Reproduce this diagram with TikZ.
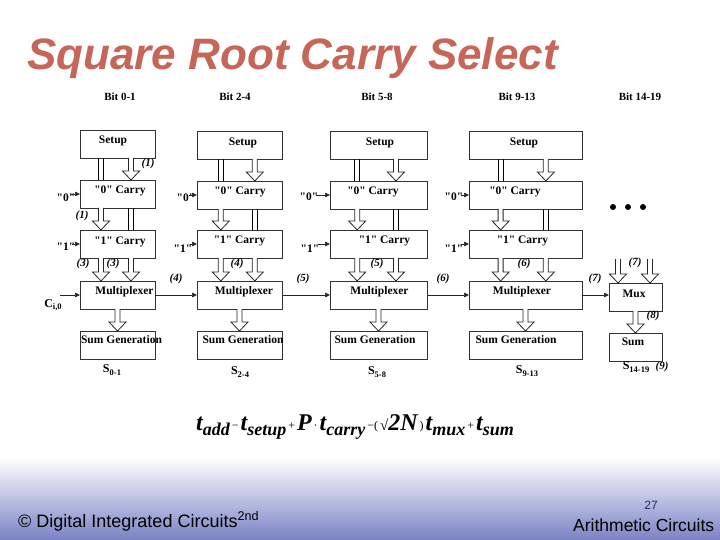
\documentclass[tikz,border=0pt]{standalone}
\usepackage{fontspec}
\setmainfont{Liberation Serif}[Ligatures=TeXOff]
\newfontfamily\arialf{Liberation Sans}
\usetikzlibrary{calc,arrows.meta}
\definecolor{titlec}{RGB}{198,102,88}
\definecolor{footblue}{RGB}{122,130,196}
\definecolor{pagenum}{RGB}{40,40,110}
\newcommand\ssub[1]{\raisebox{-2.5pt}{\fontsize{8.5}{9}\selectfont #1}}
\newcommand\fsub[1]{\raisebox{-5pt}{\fontsize{18}{18}\selectfont #1}}
\newcommand\fop[1]{\raisebox{1pt}{\fontsize{12}{12}\selectfont\mdseries\upshape\,#1\,}}
\newcommand\bbox[7]{%
  \node[box, minimum width=#4pt] (#1) at (#2,#3) {};
  \node[btxt] (#1t) at ($(#1.center)+(#6pt,#7pt)$) {#5};
}
\newcommand\harr[2]{%
  \path #1 coordinate (hA) #2 coordinate (hB);
  \draw[harrow] ($(hA)+(-2.5pt,0pt)$) -- ($(hB)+(-2.5pt,9pt)$) -- ($(hB)+(-8.5pt,9pt)$) -- (hB)
     -- ($(hB)+(8.5pt,9pt)$) -- ($(hB)+(2.5pt,9pt)$) -- ($(hA)+(2.5pt,0pt)$);
}
\newcommand\dline[2]{%
  \path #1 coordinate (hA) #2 coordinate (hB);
  \draw[dl] ($(hA)+(-2.5pt,0pt)$) -- ($(hB)+(-2.5pt,0pt)$)
            ($(hA)+(2.5pt,0pt)$) -- ($(hB)+(2.5pt,0pt)$);
}
\newcommand\colconn[1]{%
  \dline{($(setup#1.south west)!.28!(setup#1.south east)$)}{($(zero#1.north west)!.28!(zero#1.north east)$)}
  \harr{($(setup#1.south west)!.68!(setup#1.south east)$)}{($(zero#1.north west)!.68!(zero#1.north east)$)}
  \harr{($(zero#1.south west)!.28!(zero#1.south east)$)}{($(one#1.north west)!.28!(one#1.north east)$)}
  \dline{($(zero#1.south west)!.68!(zero#1.south east)$)}{($(one#1.north west)!.68!(one#1.north east)$)}
  \harr{($(one#1.south west)!.28!(one#1.south east)$)}{($(mux#1.north west)!.28!(mux#1.north east)$)}
  \harr{($(one#1.south west)!.68!(one#1.south east)$)}{($(mux#1.north west)!.68!(mux#1.north east)$)}
  \harr{(mux#1.south)}{(sum#1.north)}
}
\tikzset{
  box/.style={draw=black!80, line width=0.9pt, minimum height=28pt, inner sep=0pt, outer sep=0pt},
  btxt/.style={font=\fontsize{11.5}{12}\selectfont\bfseries, inner sep=0pt},
  hdr/.style={font=\fontsize{11}{12}\selectfont\bfseries, inner sep=0pt},
  num/.style={font=\fontsize{11}{12}\selectfont\bfseries\itshape, inner sep=0pt},
  inl/.style={font=\fontsize{11.5}{12}\selectfont\bfseries, inner sep=0pt},
  slab/.style={font=\fontsize{12}{12}\selectfont\bfseries, inner sep=0pt},
  sig/.style={-{Triangle[length=5pt,width=4.5pt]}, line width=0.7pt, draw=black!85},
  harrow/.style={draw=black!85, fill=white, line width=0.8pt, line join=miter},
  dl/.style={line width=0.8pt},
}
\begin{document}
\begin{tikzpicture}[x=1pt,y=-1pt]
\useasboundingbox (0,0) rectangle (720,540);
\fill[white] (0,0) rectangle (720,540);
% footer band
\shade[top color=white, bottom color=footblue] (0,458) rectangle (720,540);
% title
\node[anchor=base west, inner sep=0pt, font=\arialf\bfseries\itshape\fontsize{44}{44}\selectfont, text=titlec] (title) at (27,70) {Square Root Carry Select};
% headers
\node[hdr] (h1) at (120,97) {Bit 0-1};
\node[hdr] (h2) at (235,97) {Bit 2-4};
\node[hdr] (h3) at (377,97) {Bit 5-8};
\node[hdr] (h4) at (517,97) {Bit 9-13};
\node[hdr] (h5) at (640,97) {Bit 14-19};
% column 1
\bbox{setup1}{117.5}{144}{75}{Setup}{-4.5}{3}
\bbox{zero1}{117.5}{194}{75}{"0" Carry}{2.5}{3}
\bbox{one1}{117.5}{244}{75}{"1" Carry}{2.5}{2}
\bbox{mux1}{117.5}{295}{75}{Multiplexer}{7}{3}
\bbox{sum1}{117.5}{345}{75}{Sum Generation}{4}{5}
% column 2
\bbox{setup2}{239.5}{145}{85}{Setup}{3.5}{2}
\bbox{zero2}{239.5}{195}{85}{"0" Carry}{0.5}{3}
\bbox{one2}{239.5}{244}{85}{"1" Carry}{0}{3}
\bbox{mux2}{239.5}{295}{85}{Multiplexer}{4.5}{3}
\bbox{sum2}{239.5}{345}{85}{Sum Generation}{3.5}{5}
% column 3
\bbox{setup3}{378.5}{145}{97}{Setup}{1.5}{2}
\bbox{zero3}{378.5}{195}{97}{"0" Carry}{-5.5}{3}
\bbox{one3}{378.5}{244}{97}{"1" Carry}{6}{3}
\bbox{mux3}{378.5}{295}{97}{Multiplexer}{1}{3}
\bbox{sum3}{378.5}{345}{97}{Sum Generation}{-3.5}{5}
% column 4
\bbox{setup4}{525.5}{145}{113}{Setup}{-1.5}{2}
\bbox{zero4}{525.5}{195}{113}{"0" Carry}{-10.5}{3}
\bbox{one4}{525.5}{244}{113}{"1" Carry}{-3}{3}
\bbox{mux4}{525.5}{295}{113}{Multiplexer}{-3.5}{3}
\bbox{sum4}{525.5}{345}{113}{Sum Generation}{-9.5}{5}
% column 5
\bbox{mux5}{635.5}{297}{53}{Mux}{-1.5}{3}
\bbox{sum5}{635.5}{347}{53}{Sum}{-2.5}{5}
% internal hollow arrows
\foreach \i in {1,2,3,4} {\colconn{\i}}
\coordinate (m5a) at (618,259);
\coordinate (m5b) at (650,259);
\harr{(m5a)}{(mux5.north -| m5a)}
\harr{(m5b)}{(mux5.north -| m5b)}
\harr{(mux5.south)}{(sum5.north)}
% dots
\fill (613,207) circle (3pt);
\fill (628,207) circle (3pt);
\fill (643,207) circle (3pt);
% "0" and "1" inputs
\node[inl] (l01) at (66,198) {"0"};
\node[inl] (l02) at (186,198) {"0"};
\node[inl] (l03) at (309,197) {"0"};
\node[inl] (l04) at (454,197) {"0"};
\node[inl] (l11) at (66,247) {"1"};
\node[inl] (l12) at (183,249) {"1"};
\node[inl] (l13) at (310,249) {"1"};
\node[inl] (l14) at (454,249) {"1"};
\coordinate (a01) at (71,194);
\coordinate (a02) at (189,195);
\coordinate (a03) at (316,195);
\coordinate (a04) at (461,195);
\coordinate (a11) at (72,244);
\coordinate (a12) at (190,244);
\coordinate (a13) at (318,244);
\coordinate (a14) at (461,244);
\foreach \i in {1,2,3,4} {
  \draw[sig] (a0\i) -- (a0\i -| zero\i.west);
  \draw[sig] (a1\i) -- (a1\i -| one\i.west);
}
% carry in
\node[slab] (cin) at (53,305) {C\ssub{i,0}};
\coordinate (acin) at (60,295);
\draw[sig] (acin) -- (mux1.west);
% mux chain
\draw[sig] (mux1.east) -- (mux2.west);
\draw[sig] (mux2.east) -- (mux3.west);
\draw[sig] (mux3.east) -- (mux4.west);
\draw[sig] (mux4.east) -- (mux4.east -| mux5.west);
% numbers
\node[num] at (148,164) {(1)};
\node[num] at (82,216) {(1)};
\node[num] at (83,264) {(3)};
\node[num] at (113,264) {(3)};
\node[num] at (176,279) {(4)};
\node[num] at (237,264) {(4)};
\node[num] at (303,279) {(5)};
\node[num] at (377,264) {(5)};
\node[num] at (443,279) {(6)};
\node[num] at (524,264) {(6)};
\node[num] at (595,279) {(7)};
\node[num] at (635,263) {(7)};
\node[num] at (653,316) {(8)};
\node[num] at (662,367) {(9)};
% sum labels
\node[slab] at (112,370) {S\ssub{0-1}};
\node[slab] at (240,372) {S\ssub{2-4}};
\node[slab] at (377,372) {S\ssub{5-8}};
\node[slab] at (527,371) {S\ssub{9-13}};
\node[slab] at (636,367) {S\ssub{14-19}};
% formula
\node[anchor=base west, inner sep=0pt, font=\fontsize{24}{24}\selectfont\bfseries\itshape] (formula) at (196,430)
  {t\fsub{add}\fop{−}t\fsub{setup}\fop{+}P\fop{·}t\fsub{carry}\fop{−(}{\mdseries\upshape\fontsize{15}{15}\selectfont√}2N\fop{)}t\fsub{mux}\fop{+}t\fsub{sum}};
% footer
\node[anchor=base west, inner sep=0pt, font=\arialf\fontsize{18}{18}\selectfont] (foot) at (18,527) {© Digital Integrated Circuits\textsuperscript{2nd}};
\node[anchor=base, inner sep=0pt, font=\arialf\fontsize{12}{12}\selectfont, text=pagenum] (pg) at (651,509) {27};
\node[anchor=base west, inner sep=0pt, font=\arialf\fontsize{17.5}{18}\selectfont] (arith) at (573,531) {Arithmetic Circuits};
\end{tikzpicture}
\end{document}
